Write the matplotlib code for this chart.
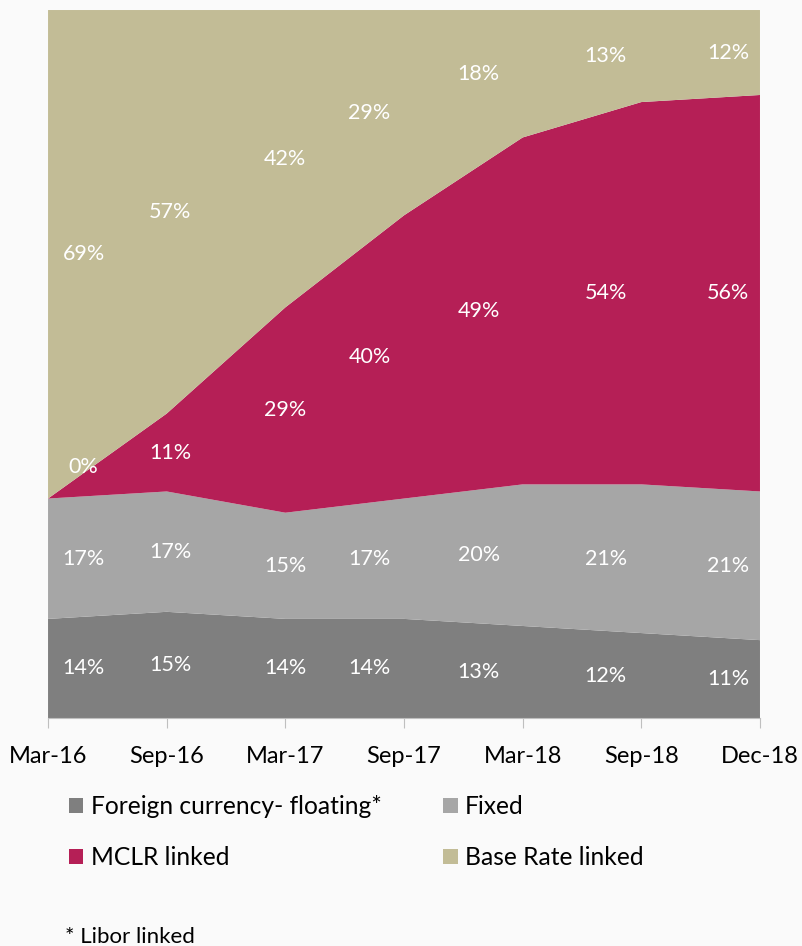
import matplotlib.pyplot as plt
from matplotlib.patches import Patch
import numpy as np

# data
periods = ["Mar-16", "Sep-16", "Mar-17", "Sep-17", "Mar-18", "Sep-18", "Dec-18"]
foreign = [14, 15, 14, 14, 13, 12, 11]
fixed = [17, 17, 15, 17, 20, 21, 21]
mclr = [0, 11, 29, 40, 49, 54, 56]
base_rate = [69, 57, 42, 29, 18, 13, 12]
series_names = ["Foreign currency- floating*", "Fixed", "MCLR linked", "Base Rate linked"]
colors = ["#7f7f7f", "#a6a6a6", "#b51f56", "#c2bc96"]

plt.rcParams['font.family'] = ['Lato', 'DejaVu Sans']

fig = plt.figure(figsize=(8.02, 9.46), dpi=100, facecolor="#fafafa")
ax = fig.add_axes([0.0599, 0.241, 0.8877, 0.7484])

x = np.arange(len(periods))
series = [foreign, fixed, mclr, base_rate]
ax.stackplot(x, *series, colors=colors, linewidth=0)

# label horizontal shift (to keep them inside the plot area like the original)
label_shift = [0.30, 0.03, 0.0, -0.29, -0.37, -0.30, -0.27]

bottom = np.zeros(len(periods))
for vals in series:
    vals = np.array(vals, dtype=float)
    for i, v in enumerate(vals):
        y = bottom[i] + v / 2
        if v == 0:
            y = bottom[i] + 4.5
        ax.text(x[i] + label_shift[i], y, f"{int(v)}%", color="white",
                fontsize=15.5, ha="center", va="center")
    bottom += vals

ax.set_xlim(0, len(periods) - 1)
ax.set_ylim(0, 100)
ax.set_xticks(x)
ax.set_xticklabels(periods, fontsize=17)
ax.set_yticks([])
for s in ["top", "right", "left"]:
    ax.spines[s].set_visible(False)
ax.spines["bottom"].set_color("#bfbfbf")
ax.tick_params(axis="x", length=7, color="#bfbfbf", pad=13)
ax.set_facecolor("none")

# legend fills column-wise, so reorder to get row order like the original
order = [0, 2, 1, 3]
handles = [Patch(facecolor=colors[k], edgecolor="none") for k in order]
labels = [series_names[k] for k in order]
fig.legend(handles, labels, loc="upper left", bbox_to_anchor=(0.058, 0.183),
           ncol=2, frameon=False, fontsize=17.7, handlelength=0.6, handleheight=0.6,
           handletextpad=0.3, columnspacing=2.5, labelspacing=1.15)

fig.text(0.081, 0.0095, "* Libor linked", fontsize=16, ha="left", va="center")

fig.savefig("out.png", dpi=100, facecolor=fig.get_facecolor())
